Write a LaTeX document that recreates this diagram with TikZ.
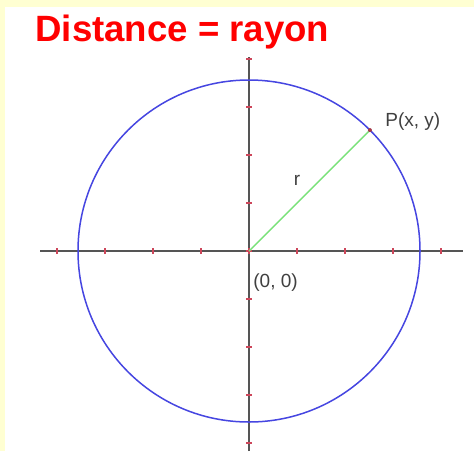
\documentclass[tikz,border=0pt]{standalone}
\usepackage{fontspec}
\setmainfont{Liberation Sans}
\usetikzlibrary{positioning}
\definecolor{paleyellow}{RGB}{255,255,210}
\definecolor{titlered}{RGB}{255,0,0}
\definecolor{circleblue}{RGB}{70,70,225}
\definecolor{radiusgreen}{RGB}{120,225,120}
\definecolor{axisgray}{RGB}{85,85,85}
\definecolor{tickred}{RGB}{205,70,90}

\begin{document}
\begin{tikzpicture}[
    x=0.5pt, y=0.5pt,
    axis/.style={draw=axisgray, line width=0.65pt},
    tickmark/.style={draw=tickred, line width=0.6pt},
    lbl/.style={font=\fontsize{9.5}{11}\selectfont, text=black!75, inner sep=0pt}
]
% background
\fill[paleyellow] (0,0) rectangle (474,451);
\fill[white] (5,0) rectangle (474,444);
\useasboundingbox (0,0) rectangle (474,451);

\node[anchor=base west, inner sep=0pt, text=titlered,
      font=\fontsize{18.3}{20}\selectfont\bfseries] (title) at (35,409) {Distance = rayon};

% axes
\coordinate (O) at (249,200);
\coordinate (xl) at (40,200);
\coordinate (xr) at (463,200);
\coordinate (yt) at (249,394);
\coordinate (yb) at (249,0);
\draw[axis] (xl) -- (xr);
\draw[axis] (yb) -- (yt);
\foreach \k in {-4,...,4} {
    \draw[tickmark] ([shift={(48*\k,-3)}]O) -- ++(0,6);
    \draw[tickmark] ([shift={(-3,48*\k)}]O) -- ++(6,0);
}

% circle and radius
\draw[circleblue, line width=0.75pt] (O) circle[radius=171];
\coordinate (P) at ([shift={(45:171)}]O);
\draw[radiusgreen, line width=0.7pt] (O) -- (P);
\fill[tickred!80!black] (P) circle[radius=2];

\node[lbl, anchor=west] (Plbl) at ([shift={(15,9)}]P) {P(x, y)};
\node[lbl] (rlbl) at ([shift={(48,71)}]O) {r};
\node[lbl, anchor=west] (Olbl) at ([shift={(4,-32)}]O) {(0, 0)};
\end{tikzpicture}
\end{document}
